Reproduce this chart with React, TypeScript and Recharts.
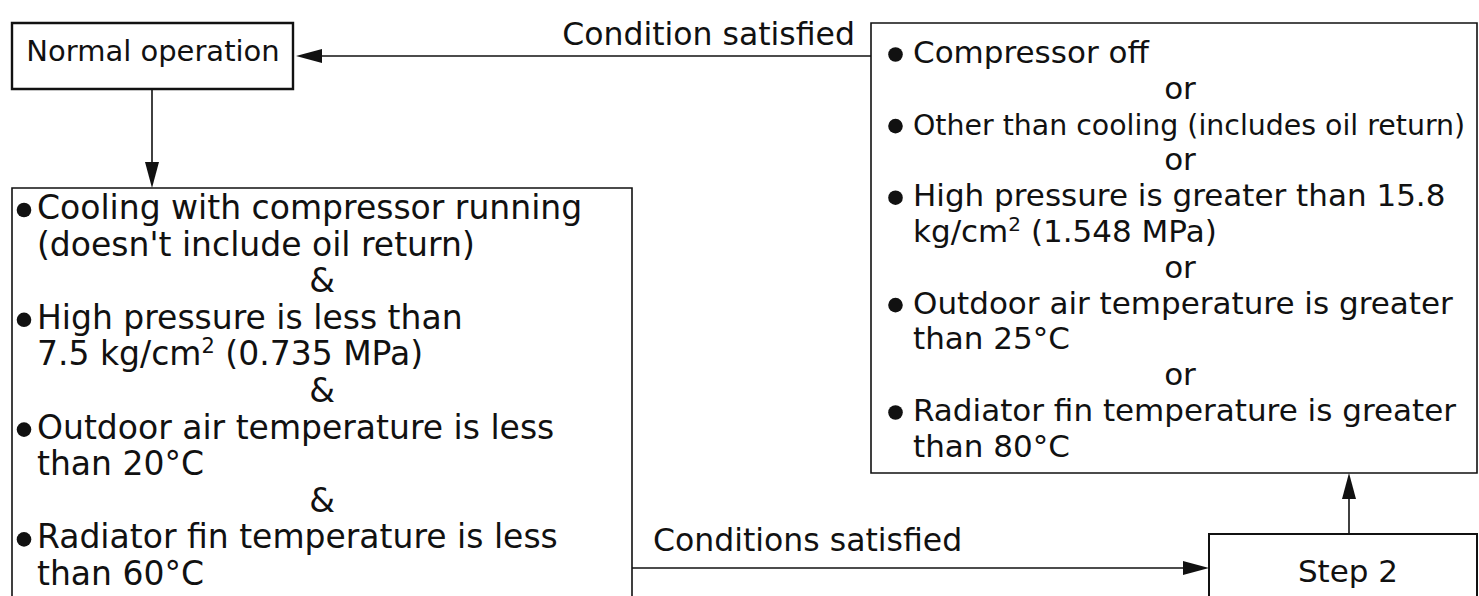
import React from 'react';
import { ComposedChart, XAxis, YAxis, ReferenceArea, ReferenceLine, ReferenceDot } from 'recharts';

const W = 1479;
const H = 596;

// ---- text content ----
const normalLabel = 'Normal operation';
const topArrowLabel = 'Condition satisfied';
const bottomArrowLabel = 'Conditions satisfied';
const stepLabel = 'Step 2';

type Seg = { t: string; sup?: boolean };
type Line = { kind: 'bullet' | 'cont' | 'join'; segs: Seg[]; fs?: number };

const leftLines: Line[] = [
  { kind: 'bullet', segs: [{ t: 'Cooling with compressor running' }] },
  { kind: 'cont', segs: [{ t: "(doesn't include oil return)" }] },
  { kind: 'join', segs: [{ t: '&' }] },
  { kind: 'bullet', segs: [{ t: 'High pressure is less than' }] },
  { kind: 'cont', segs: [{ t: '7.5 kg/cm' }, { t: '2', sup: true }, { t: ' (0.735 MPa)' }] },
  { kind: 'join', segs: [{ t: '&' }] },
  { kind: 'bullet', segs: [{ t: 'Outdoor air temperature is less' }] },
  { kind: 'cont', segs: [{ t: 'than 20°C' }] },
  { kind: 'join', segs: [{ t: '&' }] },
  { kind: 'bullet', segs: [{ t: 'Radiator fin temperature is less' }] },
  { kind: 'cont', segs: [{ t: 'than 60°C' }] },
];

const rightLines: Line[] = [
  { kind: 'bullet', segs: [{ t: 'Compressor off' }] },
  { kind: 'join', segs: [{ t: 'or' }] },
  { kind: 'bullet', segs: [{ t: 'Other than cooling (includes oil return)' }], fs: 28.4 },
  { kind: 'join', segs: [{ t: 'or' }] },
  { kind: 'bullet', segs: [{ t: 'High pressure is greater than 15.8' }] },
  { kind: 'cont', segs: [{ t: 'kg/cm' }, { t: '2', sup: true }, { t: ' (1.548 MPa)' }] },
  { kind: 'join', segs: [{ t: 'or' }] },
  { kind: 'bullet', segs: [{ t: 'Outdoor air temperature is greater' }] },
  { kind: 'cont', segs: [{ t: 'than 25°C' }] },
  { kind: 'join', segs: [{ t: 'or' }] },
  { kind: 'bullet', segs: [{ t: 'Radiator fin temperature is greater' }] },
  { kind: 'cont', segs: [{ t: 'than 80°C' }] },
];

// ---- layout (diagram units = pixels of the 1479x596 canvas) ----
const boxes = [
  { id: 'normal', x1: 12, x2: 293, y1: 23, y2: 89, sw: 2.4 },
  { id: 'left', x1: 12, x2: 632, y1: 188, y2: 620, sw: 1.6 },
  { id: 'right', x1: 871, x2: 1477, y1: 23, y2: 473, sw: 1.6 },
  { id: 'step', x1: 1209, x2: 1477, y1: 534, y2: 620, sw: 2 },
];

const arrows = [
  { from: { x: 871, y: 56 }, to: { x: 296, y: 56 }, dir: 'left' },
  { from: { x: 152, y: 89 }, to: { x: 152, y: 188 }, dir: 'down' },
  { from: { x: 632, y: 568 }, to: { x: 1209, y: 568 }, dir: 'right' },
  { from: { x: 1349, y: 534 }, to: { x: 1349, y: 473 }, dir: 'up' },
];

const leftLayout = { bulletX: 24, textX: 37, contX: 37, joinX: 322, y0: 219, step: 36.6, fs: 33, dotDy: 9, r: 7.3 };
const rightLayout = { bulletX: 895.5, textX: 913, contX: 913, joinX: 1180, y0: 63, step: 35.8, fs: 31, dotDy: 8.5, r: 7.3 };

const FONT = 'DejaVu Sans, Liberation Sans, Arial, sans-serif';
const INK = '#111';
const HEAD_LEN = 26;
const HEAD_HALF = 7;

const corners = [{ x: 0, y: 0 }, { x: W, y: H }];

const renderSegs = (segs: Seg[], fs: number) => {
  const out: React.ReactNode[] = [];
  let raised = false;
  const supFs = Math.round(fs * 0.64);
  const lift = Math.round(fs * 0.36);
  segs.forEach((s, i) => {
    if (s.sup) {
      out.push(<tspan key={i} fontSize={supFs} dy={-lift}>{s.t}</tspan>);
      raised = true;
    } else if (raised) {
      out.push(<tspan key={i} dy={lift}>{s.t}</tspan>);
      raised = false;
    } else {
      out.push(<tspan key={i}>{s.t}</tspan>);
    }
  });
  return out;
};

const textShape = (segs: Seg[], anchor: 'start' | 'middle' | 'end', fs: number) => (p: any) => (
  <text
    x={p.cx}
    y={p.cy}
    textAnchor={anchor}
    fontFamily={FONT}
    fontSize={fs}
    fill={INK}
  >
    {renderSegs(segs, fs)}
  </text>
);

const headShape = (dir: string) => (p: any) => {
  const { cx, cy } = p;
  let pts = '';
  if (dir === 'left') pts = `${cx},${cy} ${cx + HEAD_LEN},${cy - HEAD_HALF} ${cx + HEAD_LEN},${cy + HEAD_HALF}`;
  if (dir === 'right') pts = `${cx},${cy} ${cx - HEAD_LEN},${cy - HEAD_HALF} ${cx - HEAD_LEN},${cy + HEAD_HALF}`;
  if (dir === 'down') pts = `${cx},${cy} ${cx - HEAD_HALF},${cy - HEAD_LEN} ${cx + HEAD_HALF},${cy - HEAD_LEN}`;
  if (dir === 'up') pts = `${cx},${cy} ${cx - HEAD_HALF},${cy + HEAD_LEN} ${cx + HEAD_HALF},${cy + HEAD_LEN}`;
  return <polygon points={pts} fill={INK} stroke="none" />;
};

const lineEnd = (a: any) => {
  const { to, dir } = a;
  if (dir === 'left') return { x: to.x + HEAD_LEN - 2, y: to.y };
  if (dir === 'right') return { x: to.x - HEAD_LEN + 2, y: to.y };
  if (dir === 'down') return { x: to.x, y: to.y - HEAD_LEN + 2 };
  return { x: to.x, y: to.y + HEAD_LEN - 2 };
};

const listElements = (lines: Line[], L: any, prefix: string) => {
  const els: React.ReactNode[] = [];
  lines.forEach((ln, i) => {
    const y = L.y0 + i * L.step;
    const fs = ln.fs ?? L.fs;
    if (ln.kind === 'bullet') {
      els.push(
        <ReferenceDot key={`${prefix}b${i}`} x={L.bulletX} y={y - L.dotDy} r={L.r} fill={INK} stroke="none" />
      );
      els.push(
        <ReferenceDot key={`${prefix}t${i}`} x={L.textX} y={y} r={0} shape={textShape(ln.segs, 'start', fs)} />
      );
    } else if (ln.kind === 'cont') {
      els.push(
        <ReferenceDot key={`${prefix}t${i}`} x={L.contX} y={y} r={0} shape={textShape(ln.segs, 'start', fs)} />
      );
    } else {
      els.push(
        <ReferenceDot key={`${prefix}t${i}`} x={L.joinX} y={y} r={0} shape={textShape(ln.segs, 'middle', fs)} />
      );
    }
  });
  return els;
};

export default function App() {
  return (
    <div style={{ position: 'fixed', left: 0, top: 0, width: W, height: H, background: '#fff' }}>
      <ComposedChart width={W} height={H} data={corners} margin={{ top: 0, right: 0, bottom: 0, left: 0 }}>
        <XAxis dataKey="x" type="number" domain={[0, W]} allowDataOverflow hide />
        <YAxis dataKey="y" type="number" domain={[0, H]} reversed allowDataOverflow hide />

        {boxes.map((b) => (
          <ReferenceArea
            key={b.id}
            x1={b.x1}
            x2={b.x2}
            y1={b.y1}
            y2={b.y2}
            fill="#fff"
            fillOpacity={1}
            stroke={INK}
            strokeWidth={b.sw}
            ifOverflow="visible"
          />
        ))}

        {arrows.map((a, i) => (
          <ReferenceLine
            key={`al${i}`}
            segment={[a.from, lineEnd(a)]}
            stroke={INK}
            strokeWidth={1.6}
            ifOverflow="visible"
          />
        ))}
        {arrows.map((a, i) => (
          <ReferenceDot key={`ah${i}`} x={a.to.x} y={a.to.y} r={0} shape={headShape(a.dir)} ifOverflow="visible" />
        ))}

        <ReferenceDot x={153} y={61} r={0} shape={textShape([{ t: normalLabel }], 'middle', 29)} />
        <ReferenceDot x={855} y={45} r={0} shape={textShape([{ t: topArrowLabel }], 'end', 31.5)} />
        <ReferenceDot x={653} y={551} r={0} shape={textShape([{ t: bottomArrowLabel }], 'start', 31.5)} />
        <ReferenceDot x={1348} y={582} r={0} shape={textShape([{ t: stepLabel }], 'middle', 31)} />

        {listElements(leftLines, leftLayout, 'L')}
        {listElements(rightLines, rightLayout, 'R')}
      </ComposedChart>
    </div>
  );
}
